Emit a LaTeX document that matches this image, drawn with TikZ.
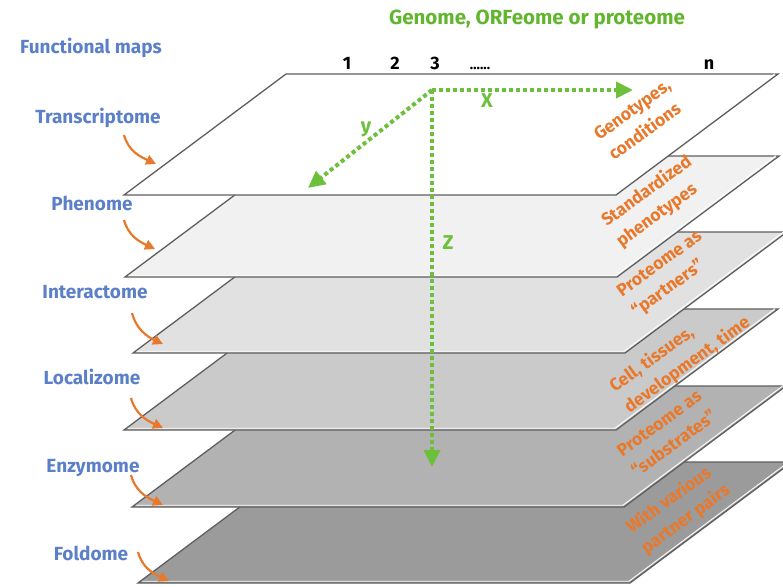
\documentclass[tikz,border=0pt]{standalone}
\usepackage{fontspec}
\setmainfont{Fira Sans}
\usetikzlibrary{arrows.meta}

\definecolor{mapblue}{HTML}{5B80C8}
\definecolor{axisgreen}{HTML}{6CC03C}
\definecolor{titlegreen}{HTML}{62B52E}
\definecolor{noteorange}{HTML}{E8792C}
\definecolor{edgegray}{HTML}{5E5E5E}
\definecolor{layerA}{HTML}{FFFFFF}
\definecolor{layerB}{HTML}{F1F1F1}
\definecolor{layerC}{HTML}{E1E1E1}
\definecolor{layerD}{HTML}{CACACA}
\definecolor{layerE}{HTML}{B2B2B2}
\definecolor{layerF}{HTML}{9B9B9B}

\tikzset{
  maplabel/.style={text=mapblue, font=\bfseries\fontsize{19}{21}\selectfont, anchor=base, inner sep=0pt},
  notelabel/.style={text=noteorange, font=\bfseries\fontsize{17.5}{25}\selectfont, align=left,
    anchor=west, inner sep=0pt, rotate=36},
  idxlabel/.style={text=black, font=\bfseries\fontsize{18}{20}\selectfont, anchor=base, inner sep=0pt},
  axislabel/.style={text=axisgreen, font=\bfseries\fontsize{20}{22}\selectfont, inner sep=0pt},
  axisline/.style={draw=axisgreen, line width=4pt, dash pattern=on 4pt off 3pt,
    -{Triangle[length=17pt,width=16pt,fill=axisgreen]}},
  pointer/.style={draw=noteorange, line width=2.2pt,
    -{Triangle[length=10pt,width=10pt,fill=noteorange]}},
  layer/.style={draw=edgegray, line width=1.3pt, line join=miter},
}

\begin{document}
\begin{tikzpicture}[x=1pt,y=-1pt]
\useasboundingbox (0,0) rectangle (783,586);
\clip (0,0) rectangle (783,586);

% stacked layers, lowest first so each upper sheet covers the one below
\foreach \bx/\by/\fc in {138/583/layerF, 132/507/layerE, 124/430/layerD,
                         133/353/layerC, 125/277/layerB, 124/195/layerA} {
  \filldraw[layer, fill=\fc] (\bx,\by) -- ++(492,0) -- ++(162,-121)
      -- ++(-492,0) -- cycle;
  \draw[white, line width=0.9pt] (\bx+4,\by-1.8) -- ++(487,0) -- ++(160,-119.5);
}

% title and column indices
\node[text=titlegreen, font=\bfseries\fontsize{20.5}{22}\selectfont, anchor=base, inner sep=0pt]
  (title) at (537,25) {Genome, ORFeome or proteome};
\node[idxlabel] (i1) at (347,69) {1};
\node[idxlabel] (i2) at (395,69) {2};
\node[idxlabel] (i3) at (435,69) {3};
\node[idxlabel, font=\bfseries\fontsize{14}{16}\selectfont] (idots) at (480,69) {…...};
\node[idxlabel] (in) at (709,69) {n};

% axes
\coordinate (o) at (432,90);
\coordinate (xend) at (633,90);
\coordinate (yend) at (308,188);
\coordinate (zend) at (432,467);
\draw[axisline] (o) -- (xend);
\draw[axisline] (o) -- (yend);
\draw[axisline] (o) -- (zend);
\node[axislabel] (xl) at (487,101) {X};
\node[axislabel] (yl) at (366,129) {y};
\node[axislabel] (zl) at (448,243) {Z};

% functional map names
\node[maplabel] (fm) at (91,53) {Functional maps};
\node[maplabel] (tr) at (98,123) {Transcriptome};
\node[maplabel] (ph) at (92,210) {Phenome};
\node[maplabel] (ia) at (95,298) {Interactome};
\node[maplabel] (lo) at (92,384) {Localizome};
\node[maplabel] (en) at (93,472) {Enzymome};
\node[maplabel] (fo) at (91,560) {Foldome};

% pointers from each name to its layer
\coordinate (trs) at (124,135); \coordinate (trt) at (156,164);
\coordinate (phs) at (124,220); \coordinate (pht) at (155,249);
\coordinate (ias) at (132,313); \coordinate (iat) at (163,344);
\coordinate (los) at (131,398); \coordinate (lot) at (163,428);
\coordinate (ens) at (131,475); \coordinate (ent) at (163,505);
\coordinate (fos) at (138,552); \coordinate (fot) at (169,581);
\foreach \p in {tr,ph,ia,lo,en,fo}
  \draw[pointer] (\p s) to[out=-75, in=155] (\p t);

% notes along the right edge of each layer
\node[notelabel] (n1) at (603,146) {Genotypes,\\conditions};
\node[notelabel] (n2) at (611,233) {Standardized\\phenotypes};
\node[notelabel] (n3) at (627,304) {Proteome as\\“partners”};
\node[notelabel] (n4) at (619,399) {Cell, tissues,\\development, time};
\node[notelabel] (n5) at (626,463) {Proteome as\\“substrates”};
\node[notelabel] (n6) at (636,540) {With various\\partner pairs};
\end{tikzpicture}
\end{document}
